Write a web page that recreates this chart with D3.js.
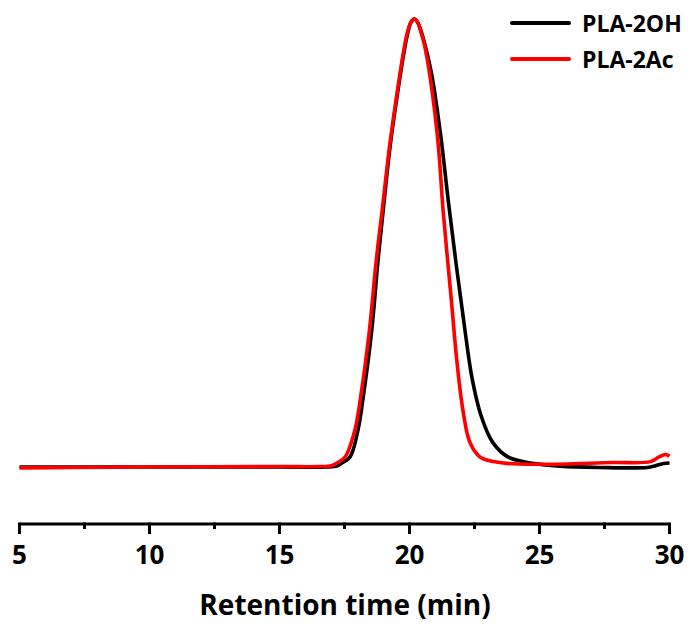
<!DOCTYPE html>
<html>
<head>
<meta charset="utf-8">
<script src="https://cdnjs.cloudflare.com/ajax/libs/d3/7.8.5/d3.min.js"></script>
<style>
	body { margin:0; background:#fff; }
	text { font-family: "Open Sans", sans-serif; font-weight: bold; }
</style>
</head>
<body>
<div id="chart"></div>
<script>

// retention time (min) and normalised detector signal
var time_oh = [5, 10, 15, 16.8, 17.2, 17.4, 17.71, 18.02, 18.22, 18.55, 18.78, 18.99, 19.27, 19.62, 19.8, 19.93, 20.05, 20.18,
	20.31, 20.45, 20.58, 20.87, 21.2, 21.5, 21.8, 22.1, 22.4, 22.75, 23.2, 23.8, 24.65, 25.8, 27.3, 29.15, 29.46, 29.77, 30];
var signal_oh = [0, 0, 0, 0, 0.002, 0.009, 0.022, 0.083, 0.156, 0.306, 0.455, 0.574, 0.723, 0.865, 0.93, 0.968, 0.992, 1,
	0.993, 0.972, 0.946, 0.871, 0.74, 0.59, 0.45, 0.32, 0.2, 0.115, 0.055, 0.022, 0.009, 0.002, -0.001, -0.001, 0.003, 0.008, 0.009];

var time_ac = [5, 7, 10, 15, 16.5, 17.0, 17.21, 17.52, 17.9, 18.12, 18.46, 18.71, 18.95, 19.25, 19.6, 19.78, 19.91, 20.05, 20.18,
	20.31, 20.43, 20.56, 20.79, 21.1, 21.29, 21.6, 21.83, 22.07, 22.33, 22.72, 23.61, 25.03, 27.8, 29.27, 29.58, 29.85, 30];
var signal_ac = [-0.002, -0.001, 0, 0.001, 0.001, 0.003, 0.009, 0.022, 0.083, 0.156, 0.306, 0.455, 0.574, 0.723, 0.865, 0.93, 0.968, 0.992, 1,
	0.993, 0.973, 0.946, 0.871, 0.723, 0.574, 0.379, 0.232, 0.121, 0.054, 0.022, 0.009, 0.006, 0.010, 0.012, 0.022, 0.028, 0.024];

var series_names = ["PLA-2OH", "PLA-2Ac"];
var series_colors = ["#000000", "#ff0000"];
var x_ticks = [5, 10, 15, 20, 25, 30];
var x_minor = [7.5, 12.5, 17.5, 22.5, 27.5];

// chart options
var width = 688, height = 624;

var svg = d3.select("#chart").append("svg")
	.attr("width", width)
	.attr("height", height);

var x = d3.scaleLinear().domain([5, 30]).range([19.5, 669.5]);
var y = d3.scaleLinear().domain([0, 1]).range([467, 19]);

var axisY = 524;

// axis line + ticks
var axis = svg.append("g").attr("transform", "translate(0," + axisY + ")");
axis.append("line")
	.attr("x1", x(5)).attr("x2", x(30))
	.attr("stroke", "#000").attr("stroke-width", 3);
axis.selectAll("line.major")
	.data(x_ticks).enter().append("line")
	.attr("class", "major")
	.attr("x1", function(d){ return x(d); }).attr("x2", function(d){ return x(d); })
	.attr("y1", -1.5).attr("y2", 10)
	.attr("stroke", "#000").attr("stroke-width", 3);
axis.selectAll("line.minor")
	.data(x_minor).enter().append("line")
	.attr("class", "minor")
	.attr("x1", function(d){ return x(d); }).attr("x2", function(d){ return x(d); })
	.attr("y1", -1.5).attr("y2", 5)
	.attr("stroke", "#000").attr("stroke-width", 3);
axis.selectAll("text")
	.data(x_ticks).enter().append("text")
	.attr("x", function(d){ return x(d); })
	.attr("y", 40)
	.attr("text-anchor", "middle")
	.attr("font-size", "26px")
	.text(function(d){ return d; });

svg.append("text")
	.attr("x", 345).attr("y", 615)
	.attr("text-anchor", "middle")
	.attr("font-size", "28px")
	.text("Retention time (min)");

// curves
var line = d3.line()
	.x(function(d){ return x(d[0]); })
	.y(function(d){ return y(d[1]); })
	.curve(d3.curveCatmullRom.alpha(0.5));

var data_oh = d3.zip(time_oh, signal_oh);
var data_ac = d3.zip(time_ac, signal_ac);

svg.append("path")
	.datum(data_oh)
	.attr("d", line)
	.attr("fill", "none")
	.attr("stroke", series_colors[0])
	.attr("stroke-width", 3.6)
	.attr("stroke-linejoin", "round");

svg.append("path")
	.datum(data_ac)
	.attr("d", line)
	.attr("fill", "none")
	.attr("stroke", series_colors[1])
	.attr("stroke-width", 3.6)
	.attr("stroke-linejoin", "round");

// legend
var legend = svg.selectAll("g.legend")
	.data(series_names).enter().append("g")
	.attr("class", "legend")
	.attr("transform", function(d, i){ return "translate(0," + (23 + i * 36) + ")"; });
legend.append("line")
	.attr("x1", 512).attr("x2", 569)
	.attr("stroke", function(d, i){ return series_colors[i]; })
	.attr("stroke-width", 4)
	.attr("stroke-linecap", "round");
legend.append("text")
	.attr("x", 582).attr("y", 8.5)
	.attr("font-size", "23px")
	.text(function(d){ return d; });

</script>
</body>
</html>
